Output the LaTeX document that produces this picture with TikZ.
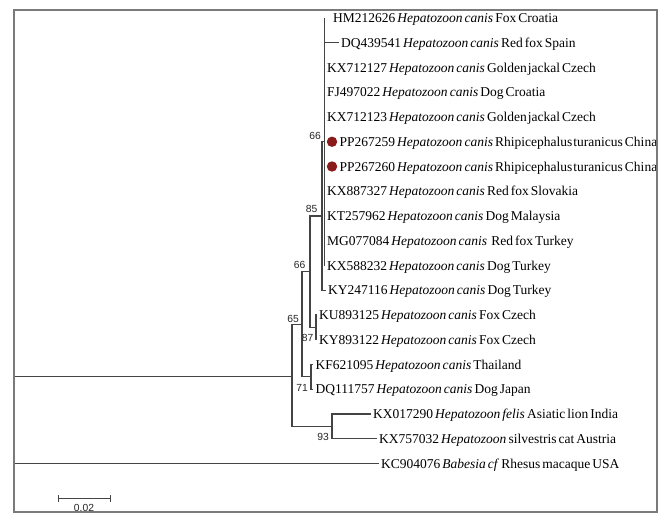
\documentclass[tikz,border=0pt]{standalone}
\usepackage{fontspec}
\setmainfont[WordSpace=0.6]{Liberation Serif}
\newfontfamily\bsfont{Liberation Sans}
\definecolor{treeline}{HTML}{444444}
\definecolor{framegray}{HTML}{7A7A7A}
\definecolor{dotred}{HTML}{8B1A1A}
\begin{document}
\begin{tikzpicture}[x=1pt,y=-1pt,
  br/.style={draw=treeline, line width=1.15pt},
  leaf/.style={anchor=west, inner xsep=2.5pt, inner ysep=0pt, text height=9pt, text depth=0pt, font=\fontsize{13.5}{16}\selectfont},
  boot/.style={anchor=east, inner sep=0pt, font=\bsfont\fontsize{10.3}{12}\selectfont, text=black!85},
  dotm/.style={circle, fill=dotred, inner sep=0pt, minimum size=10.4pt},
  framel/.style={draw=framegray, line width=1.6pt}]
\useasboundingbox (0,0) rectangle (668,514);
\fill[white] (0,0) rectangle (668,514);
% leaves
\node[leaf] (l0) at (330.5,18) {HM212626 \textit{Hepatozoon canis} Fox Croatia};
\node[leaf] (l1) at (338.5,42.75) {DQ439541 \textit{Hepatozoon canis} Red fox Spain};
\node[leaf] (l2) at (324.5,67.5) {KX712127 \textit{Hepatozoon canis} Golden\kern1.2pt jackal Czech};
\node[leaf] (l3) at (324.5,92.25) {FJ497022 \textit{Hepatozoon canis} Dog Croatia};
\node[leaf] (l4) at (324.5,117) {KX712123 \textit{Hepatozoon canis} Golden\kern1.2pt jackal Czech};
\node[dotm] (d5) at (332,141.75) {};
\node[leaf] (l5) at (337,141.75) {PP267259 \textit{Hepatozoon canis} Rhipicephalus\kern1.2pt turanicus China};
\node[dotm] (d6) at (332,166.5) {};
\node[leaf] (l6) at (337,166.5) {PP267260 \textit{Hepatozoon canis} Rhipicephalus\kern1.2pt turanicus China};
\node[leaf] (l7) at (324.5,191.25) {KX887327 \textit{Hepatozoon canis} Red fox Slovakia};
\node[leaf] (l8) at (324.5,216) {KT257962 \textit{Hepatozoon canis} Dog Malaysia};
\node[leaf] (l9) at (324.5,240.75) {MG077084 \textit{Hepatozoon canis}\ \ Red fox Turkey};
\node[leaf] (l10) at (324.5,265.5) {KX588232 \textit{Hepatozoon canis} Dog Turkey};
\node[leaf] (l11) at (325.5,290.25) {KY247116 \textit{Hepatozoon canis} Dog Turkey};
\node[leaf] (l12) at (316.5,315) {KU893125 \textit{Hepatozoon canis} Fox Czech};
\node[leaf] (l13) at (316.5,339.75) {KY893122 \textit{Hepatozoon canis} Fox Czech};
\node[leaf] (l14) at (313,364.5) {KF621095 \textit{Hepatozoon canis} Thailand};
\node[leaf] (l15) at (313,389.25) {DQ111757 \textit{Hepatozoon canis} Dog Japan};
\node[leaf] (l16) at (370.5,414) {KX017290 \textit{Hepatozoon felis} Asiatic lion India};
\node[leaf] (l17) at (376.5,438.75) {KX757032 \textit{Hepatozoon} silvestris cat Austria};
\node[leaf] (l18) at (378.5,463.5) {KC904076 \textit{Babesia cf} Rhesus macaque USA};
% internal nodes
\coordinate (N66U) at (324.5,141.75);
\coordinate (N85) at (322,216);
\coordinate (N87) at (316,327.375);
\coordinate (N66L) at (310,271.69);
\coordinate (N71) at (311,376.875);
\coordinate (N65) at (302,324.28);
\coordinate (N93) at (332,426.375);
\coordinate (NX) at (292,376.5);
\coordinate (R) at (14,419.4);
% branches
\draw[br] (R) |- (NX);
\draw[br] (R) |- (l18.west);
\draw[br] (NX) |- (N65);
\draw[br] (NX) |- (N93);
\draw[br] (N65) |- (N66L);
\draw[br] (N65) |- (N71);
\draw[br] (N66L) |- (N85);
\draw[br] (N66L) |- (N87);
\draw[br] (N85) |- (N66U);
\draw[br] (N85) |- (l11.west);
\draw[br] (N87) |- (l12.west);
\draw[br] (N87) |- (l13.west);
\draw[br] (N71) |- (l14.west);
\draw[br] (N71) |- (l15.west);
\draw[br] (N93) |- (l16.west);
\draw[br] (N93) |- (l17.west);
\draw[br] (N66U |- l0.west) -- (N66U |- l10.west);
\foreach \i in {1,2,3,4,7,8,9,10}{\draw[br] (N66U |- l\i.west) -- (l\i.west);}
% bootstrap values
\node[boot] (b66u) at (321,136) {66};
\node[boot] (b85) at (317.5,209) {85};
\node[boot] (b66l) at (305.5,265) {66};
\node[boot] (b65) at (299,319) {65};
\node[boot] (b87) at (313.5,338) {87};
\node[boot] (b71) at (308,388) {71};
\node[boot] (b93) at (329,437) {93};
% scale bar
\coordinate (s1) at (58.3,498.3);
\coordinate (s2) at (110,498.3);
\draw[br, line width=1pt] (s1) -- (s2);
\draw[br, line width=1pt] ([yshift=3.3pt]s1) -- ([yshift=-3.3pt]s1);
\draw[br, line width=1pt] ([yshift=3.3pt]s2) -- ([yshift=-3.3pt]s2);
\node[boot, anchor=center] (sl) at (84,508) {0.02};
% frame
\draw[framel] (14,10) rectangle (656.7,512);
\end{tikzpicture}
\end{document}
